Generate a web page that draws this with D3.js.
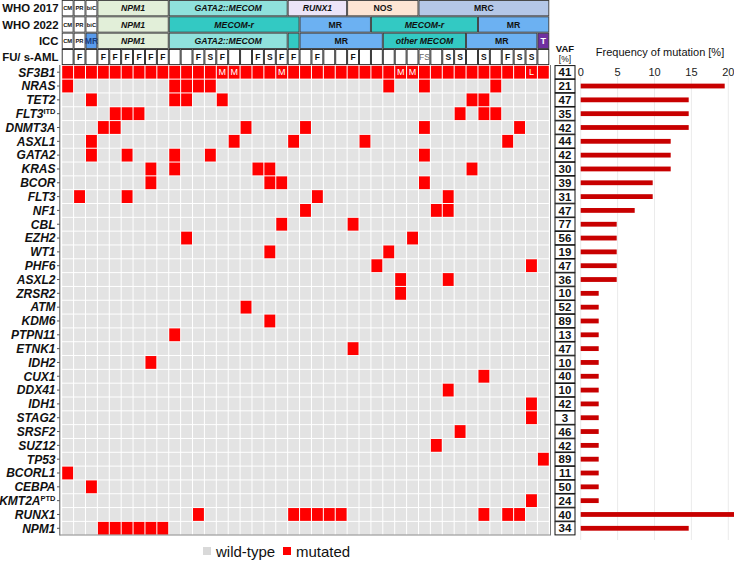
<!DOCTYPE html>
<html><head><meta charset="utf-8">
<script src="https://cdn.jsdelivr.net/npm/d3@7"></script>
<style>body{margin:0;background:#fff}svg{display:block;font-family:"Liberation Sans",Arial,sans-serif}</style>
</head><body><svg id="c" width="734" height="561"></svg>
<script>
// ---------------- data ----------------
const nPatients = 41;
const geneNames = ["SF3B1","NRAS","TET2","FLT3","DNMT3A","ASXL1","GATA2","KRAS","BCOR","FLT3","NF1","CBL","EZH2","WT1","PHF6","ASXL2","ZRSR2","ATM","KDM6","PTPN11","ETNK1","IDH2","CUX1","DDX41","IDH1","STAG2","SRSF2","SUZ12","TP53","BCORL1","CEBPA","KMT2A","RUNX1","NPM1"];
const geneSuffix = ["","","","ITD","","","","","","","","","","","","","","","","","","","","","","","","","","","","PTD","",""];
const vaf = [41,21,47,35,42,44,42,30,39,31,47,77,56,19,47,36,10,52,89,13,47,10,40,10,42,3,46,42,89,11,50,24,40,34];
const mutatedCols = [
  [0,1,2,3,4,5,6,7,8,9,10,11,12,13,14,15,16,17,18,19,20,21,22,23,24,25,26,27,28,29,30,31,32,33,34,35,36,37,38,39,40],
  [0,9,10,11,12,27,30,36],
  [2,9,10,13,34,35],
  [4,5,6,33,35,36],
  [3,4,15,20,30,38],
  [2,14,19,25,37],
  [2,5,9,12,30],
  [7,9,16,17,34],
  [7,17,18,30],
  [1,5,21,32],
  [20,31,32],
  [18,24],
  [10,29],
  [17,27],
  [26,39],
  [28,32],
  [28],
  [15],
  [17],
  [9],
  [24],
  [7],
  [35],
  [32],
  [39],
  [39],
  [33],
  [31],
  [40],
  [0],
  [2],
  [39],
  [11,19,20,21,22,23,35,37,38],
  [3,4,5,6,7,8]
];
const sf3b1Notes = [[13,"M"],[14,"M"],[18,"M"],[28,"M"],[29,"M"],[39,"L"]];
const fuLabels = ["","F","","F","F","F","F","F","F","","","F","S","F","","","F","S","F","F","","F","","","F","","","","","","FS","","S","S","","S","","F","S","S",""];
const who2017 = [["CM",0,0],["PR",1,1],["biC",2,2],["NPM1",3,8],["GATA2::MECOM",9,18],["RUNX1",19,23],["NOS",24,29],["MRC",30,40]];
const who2022 = [["CM",0,0],["PR",1,1],["biC",2,2],["NPM1",3,8],["MECOM-r",9,19],["MR",20,25],["MECOM-r",26,34],["MR",35,40]];
const icc = [["CM",0,0],["PR",1,1],["MR",2,2],["NPM1",3,8],["GATA2::MECOM",9,18],["",19,19],["MR",20,26],["other MECOM",27,33],["MR",34,39],["T",40,40]];
const headerNames = ["WHO 2017","WHO 2022","ICC","FU/ s-AML"];
const freqTicks = [0,5,10,15,20];

// ---------------- styles ----------------
const segFill = {
  "WHO 2017": {"NPM1":"#e2efd9","GATA2::MECOM":"#8fe1dc","RUNX1":"#ece4f8","NOS":"#fde5d4","MRC":"#b4c7e7"},
  "WHO 2022": {"NPM1":"#e2efd9","MECOM-r":"#33c9c3","MR":"#6cb1f2"},
  "ICC": {"NPM1":"#e2efd9","GATA2::MECOM":"#8fe1dc","":"#33c9c3","MR":"#6cb1f2","other MECOM":"#33c9c3","T":"#7030a0"}
};
const italicSeg = new Set(["NPM1","GATA2::MECOM","RUNX1","MECOM-r","other MECOM"]);
const smallSeg = new Set(["CM","PR","biC"]);

const svg = d3.select("#c");
const rowIds = d3.range(geneNames.length);
const x = d3.scaleBand().domain(d3.range(nPatients)).range([61.7,549.3]);
const y = d3.scaleBand().domain(rowIds).range([65.3,535.2]);
const hy = d3.scaleBand().domain(headerNames).range([0,65.3]);
const bx = d3.scaleLinear().domain([0,20]).range([580.7,728.3]);
const bw = x.bandwidth(), bh = y.bandwidth();

// ---------------- header rows ----------------
[["WHO 2017",who2017],["WHO 2022",who2022],["ICC",icc]].forEach(([name,segs])=>{
  const g = svg.append("g");
  segs.forEach(([lab,s,e])=>{
    let fill = segFill[name][lab] || "#ffffff";
    if(name==="ICC" && lab==="MR" && s===2) fill = "#5a9cec";
    const x0 = x(s), x1 = x(e)+bw;
    g.append("rect").attr("x",x0+0.5).attr("y",hy(name)+0.5).attr("width",x1-x0-1).attr("height",hy.bandwidth()-1)
      .attr("fill",fill).attr("stroke","#3a3a3a").attr("stroke-width",0.9);
    if(lab){
      g.append("text").attr("x",(x0+x1)/2).attr("y",hy(name)+hy.bandwidth()/2)
        .attr("dy","0.36em").attr("text-anchor","middle")
        .attr("font-size", smallSeg.has(lab)?5.8:(lab==="T"?9:8.7)).attr("font-weight","bold")
        .attr("font-style", italicSeg.has(lab)?"italic":"normal")
        .attr("fill", lab==="T"?"#fff":(name==="ICC"&&s===2?"#1a3f80":"#111")).text(lab);
    }
  });
});
// FU row
const fuY = hy("FU/ s-AML");
fuLabels.forEach((lab,i)=>{
  svg.append("rect").attr("x",x(i)+0.5).attr("y",fuY+0.5).attr("width",bw-1).attr("height",hy.bandwidth()-1.2)
    .attr("fill","#fff").attr("stroke","#222").attr("stroke-width",0.9);
  if(lab) svg.append("text").attr("x",x(i)+bw/2).attr("y",fuY+hy.bandwidth()/2).attr("dy","0.36em")
    .attr("text-anchor","middle").attr("font-size",8.5).attr("font-weight",lab==="FS"?"normal":"bold")
    .attr("fill",lab==="FS"?"#666":"#111").text(lab);
});
// header labels
headerNames.forEach(n=>{
  svg.append("text").attr("x",58.5).attr("y",hy(n)+hy.bandwidth()/2).attr("dy","0.36em")
    .attr("text-anchor","end").attr("font-size",11.4).attr("font-weight","bold").attr("fill","#111").text(n);
});

// ---------------- grid ----------------
const grid = svg.append("g");
rowIds.forEach(r=>{
  const mset = new Set(mutatedCols[r]);
  d3.range(nPatients).forEach(c=>{
    grid.append("rect").attr("x",x(c)+0.5).attr("y",y(r)+0.5).attr("width",bw-1).attr("height",bh-1)
      .attr("fill", mset.has(c)?"#ff0000":"#e3e3e3");
  });
});
sf3b1Notes.forEach(([c,l])=>{
  grid.append("text").attr("x",x(c)+bw/2).attr("y",y(0)+bh/2).attr("dy","0.36em").attr("text-anchor","middle")
    .attr("font-size",9).attr("fill","#fff").text(l);
});
// axis lines
svg.append("line").attr("x1",59.8).attr("x2",59.8).attr("y1",65).attr("y2",535.5).attr("stroke","#555").attr("stroke-width",1);
svg.append("line").attr("x1",59.8).attr("x2",550).attr("y1",535).attr("y2",535).attr("stroke","#888").attr("stroke-width",1);
svg.append("line").attr("x1",550.5).attr("x2",550.5).attr("y1",65).attr("y2",535.5).attr("stroke","#777").attr("stroke-width",1);
rowIds.forEach(r=>{
  svg.append("line").attr("x1",57).attr("x2",59.8).attr("y1",y(r)+bh/2).attr("y2",y(r)+bh/2).attr("stroke","#555");
});
// gene labels
rowIds.forEach(r=>{
  const t = svg.append("text").attr("x",55.5).attr("y",y(r)+bh/2).attr("dy","0.36em").attr("text-anchor","end")
    .attr("font-size",12).attr("font-weight","bold").attr("font-style","italic").attr("fill","#111");
  t.append("tspan").text(geneNames[r]);
  if(geneSuffix[r]) t.append("tspan").attr("font-size",7.5).attr("dy","-0.55em").attr("font-style","normal").text(geneSuffix[r]);
});

// ---------------- VAF ----------------
svg.append("text").attr("x",565).attr("y",52).attr("text-anchor","middle").attr("font-size",9.5).attr("font-weight","bold").attr("fill","#111").text("VAF");
svg.append("text").attr("x",565).attr("y",62).attr("text-anchor","middle").attr("font-size",8.5).attr("fill","#111").text("[%]");
rowIds.forEach(r=>{
  svg.append("rect").attr("x",555).attr("y",y(r)+0.3).attr("width",20).attr("height",bh-0.6)
    .attr("fill","#fff").attr("stroke","#111").attr("stroke-width",1);
  svg.append("text").attr("x",565).attr("y",y(r)+bh/2).attr("dy","0.36em").attr("text-anchor","middle")
    .attr("font-size",11.5).attr("font-weight","bold").attr("fill","#111").text(vaf[r]);
});

// ---------------- frequency bars ----------------
const freq = mutatedCols.map(m=>m.length/nPatients*100);
freqTicks.forEach(t=>{
  svg.append("line").attr("x1",bx(t)).attr("x2",bx(t)).attr("y1",76).attr("y2",540).attr("stroke","#ebebeb").attr("stroke-width",1);
  svg.append("text").attr("x",bx(t)).attr("y",y(0)+bh/2).attr("dy","0.36em").attr("text-anchor","middle")
    .attr("font-size",11).attr("fill","#222").text(t);
});
svg.append("text").attr("x",660).attr("y",56).attr("text-anchor","middle").attr("font-size",11).attr("fill","#111").text("Frequency of mutation [%]");
rowIds.slice(1).forEach(r=>{
  svg.append("rect").attr("x",bx(0)).attr("y",y(r)+bh/2-2.4).attr("width",bx(freq[r])-bx(0)).attr("height",4.8)
    .attr("fill","#c80000");
});

// ---------------- legend ----------------
const lg = svg.append("g");
lg.append("rect").attr("x",203).attr("y",547).attr("width",8).attr("height",8).attr("fill","#d9d9d9");
lg.append("text").attr("x",216).attr("y",557).attr("font-size",15).attr("fill","#111").text("wild-type");
lg.append("rect").attr("x",283).attr("y",547).attr("width",8).attr("height",8).attr("fill","#ff0000");
lg.append("text").attr("x",296).attr("y",557).attr("font-size",15).attr("fill","#111").text("mutated");
</script></body></html>
